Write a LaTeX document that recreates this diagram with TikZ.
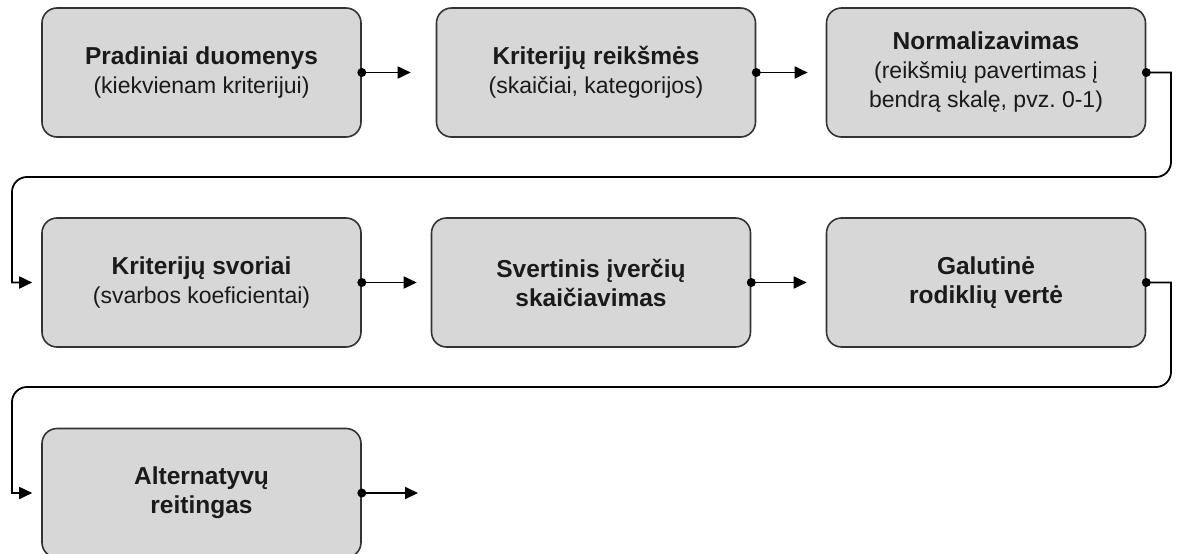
\documentclass[tikz,border=0pt]{standalone}
\usepackage{fontspec}
\setmainfont{Liberation Sans}
\usetikzlibrary{arrows.meta}
\definecolor{boxfill}{HTML}{D7D7D7}
\definecolor{boxline}{HTML}{333333}
\definecolor{txt}{HTML}{1A1A1A}
\newcommand{\ttl}[1]{{\fontsize{24.5}{29}\selectfont\bfseries #1}}
\frenchspacing
\begin{document}
\begin{tikzpicture}[x=1pt,y=-1pt,
  stepbox/.style={rectangle, rounded corners=15pt, draw=boxline, line width=1.6pt, fill=boxfill,
    minimum width=319pt, minimum height=129pt, align=center, inner sep=0pt, text=txt,
    font=\fontsize{23}{29}\selectfont},
  conn/.style={draw=black, line width=1.8pt, -{Triangle[length=13pt,width=12pt]}},
  dotc/.style={fill=black}
]
\useasboundingbox (0,0) rectangle (1179,554);
\node[stepbox] (b1) at (201.5,72.5) {\ttl{Pradiniai duomenys}\\(kiekvienam kriterijui)};
\node[stepbox] (b2) at (596,72.5) {\ttl{Kriterijų reikšmės}\\(skaičiai, kategorijos)};
\node[stepbox] (b3) at (986,72.5) {\ttl{Normalizavimas}\\(reikšmių pavertimas į\\bendrą skalę, pvz. 0-1)};
\node[stepbox] (b4) at (201.5,282.5) {\ttl{Kriterijų svoriai}\\(svarbos koeficientai)};
\node[stepbox] (b5) at (591,282.5) {\ttl{Svertinis įverčių}\\\ttl{skaičiavimas}};
\node[stepbox] (b6) at (986,282.5) {\ttl{Galutinė}\\\ttl{rodiklių vertė}};
\node[stepbox] (b7) at (201.5,493) {\ttl{Alternatyvų}\\\ttl{reitingas}};

\coordinate (c1) at (1171,72.5);
\coordinate (c2) at (1171,177);
\coordinate (c3) at (12,177);
\coordinate (c4) at (12,282.5);
\coordinate (d1) at (1171,282.5);
\coordinate (d2) at (1171,387);
\coordinate (d3) at (12,387);
\coordinate (d4) at (12,493);
\coordinate (e1) at (418,493);

\draw[conn, shorten >=25pt] (b1.east) -- (b2.west);
\draw[conn, shorten >=18pt] (b2.east) -- (b3.west);
\draw[conn, shorten >=9pt] (b3.east) -- (c1) [rounded corners=15pt] -- (c2) -- (c3) [sharp corners] -- (c4) -- (b4.west);
\draw[conn, shorten >=14pt] (b4.east) -- (b5.west);
\draw[conn, shorten >=19pt] (b5.east) -- (b6.west);
\draw[conn, shorten >=9pt] (b6.east) -- (d1) [rounded corners=15pt] -- (d2) -- (d3) [sharp corners] -- (d4) -- (b7.west);
\draw[conn] (b7.east) -- (e1);

\foreach \n in {b1,b2,b3,b4,b5,b6,b7} \fill[dotc] (\n.east) circle (4.5pt);
\end{tikzpicture}
\end{document}
